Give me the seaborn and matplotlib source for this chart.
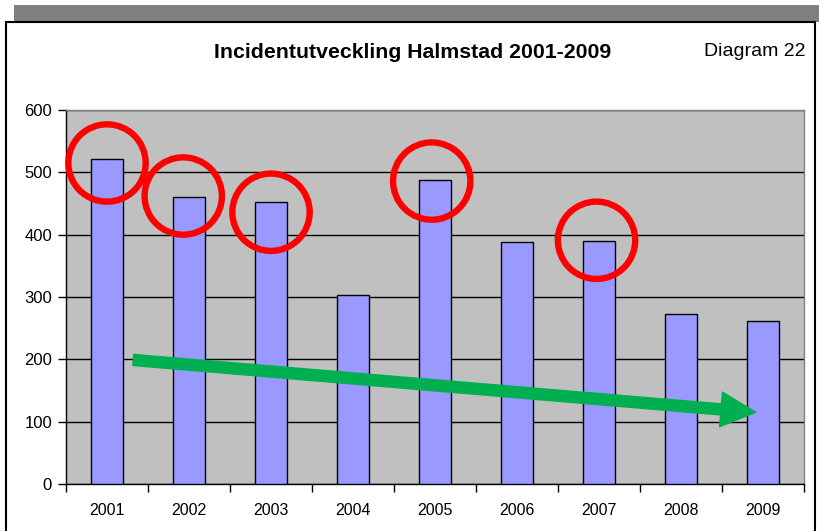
import matplotlib
matplotlib.use("Agg")
import matplotlib.pyplot as plt
from matplotlib.patches import Rectangle
import pandas as pd
import seaborn as sns

# data
years = ["2001", "2002", "2003", "2004", "2005", "2006", "2007", "2008", "2009"]
incidents = [522, 460, 452, 303, 488, 388, 390, 273, 261]
circled = ["2001", "2002", "2003", "2005", "2007"]
circle_shift = [0.0, -0.07, 0.0, -0.04, -0.03]
circle_value = [515, 462, 436, 486, 391]
trend_start = (0.32, 199)
trend_end = (7.91, 115)

sns.set_theme(style="white")
plt.rcParams["font.family"] = ["Liberation Sans", "DejaVu Sans"]
plt.rcParams["text.color"] = "black"
plt.rcParams["xtick.labelcolor"] = "black"
plt.rcParams["ytick.labelcolor"] = "black"

df = pd.DataFrame({"year": years, "incidents": incidents})

fig = plt.figure(figsize=(8.19, 5.31), dpi=100)
fig.patch.set_facecolor("white")

# frame and grey band at the top
fig.patches.append(Rectangle((14 / 819, 1 - 22 / 531), 805 / 819, 17 / 531,
                             transform=fig.transFigure, facecolor="#808080",
                             edgecolor="none", zorder=-2))
fig.patches.append(Rectangle((6 / 819, -0.05), 809 / 819, 1.05 - 22 / 531,
                             transform=fig.transFigure, facecolor="white",
                             edgecolor="black", linewidth=1.5, zorder=-1))

ax = fig.add_axes([66 / 819, 47 / 531, 738 / 819, 374 / 531])
ax.set_zorder(2)
ax.set_facecolor("#C0C0C0")

sns.barplot(data=df, x="year", y="incidents", color="#9999FF", saturation=1,
            edgecolor="black", linewidth=1, width=0.4, ax=ax, zorder=3)

ax.set_ylim(0, 600)
ax.set_xlim(-0.5, len(years) - 0.5)
ax.set_yticks(range(0, 601, 100))
ax.yaxis.grid(True, color="black", linewidth=1, zorder=0)
ax.set_axisbelow(True)

# x ticks on category boundaries, labels at centers
ax.set_xticks([i - 0.5 for i in range(len(years) + 1)])
ax.set_xticklabels([])
ax.set_xticks(range(len(years)), minor=True)
ax.set_xticklabels(years, minor=True)
ax.tick_params(axis="x", which="major", direction="out", length=6, width=1,
               color="black", bottom=True)
ax.tick_params(axis="x", which="minor", length=0, pad=14, labelsize=11.5,
               labelcolor="black")
ax.tick_params(axis="y", direction="out", length=6, width=1, color="black",
               left=True, labelsize=12, pad=4, labelcolor="black")
ax.set_xlabel("")
ax.set_ylabel("")

for side in ["left", "bottom"]:
    ax.spines[side].set_color("black")
    ax.spines[side].set_linewidth(1)
for side in ["top", "right"]:
    ax.spines[side].set_color("#808080")
    ax.spines[side].set_linewidth(1)

# red circles
cx = [years.index(y) + s for y, s in zip(circled, circle_shift)]
ax.scatter(cx, circle_value, s=3100, facecolors="none", edgecolors="#FF0000",
           linewidths=4.6, zorder=5, clip_on=False)

# green trend arrow
ax.annotate("", xy=trend_end, xytext=trend_start,
            arrowprops=dict(arrowstyle="simple,head_length=2.5,head_width=2.5,tail_width=0.8",
                            color="#00B050", shrinkA=0, shrinkB=0, mutation_scale=10),
            zorder=6)

fig.text(413 / 819, 1 - 52 / 531, "Incidentutveckling Halmstad 2001-2009",
         ha="center", va="center", fontsize=15.3, fontweight="bold",
         color="black")
fig.text(806 / 819, 1 - 51 / 531, "Diagram 22", ha="right", va="center",
         fontsize=14, color="black")

fig.savefig("out.png", dpi=100)
